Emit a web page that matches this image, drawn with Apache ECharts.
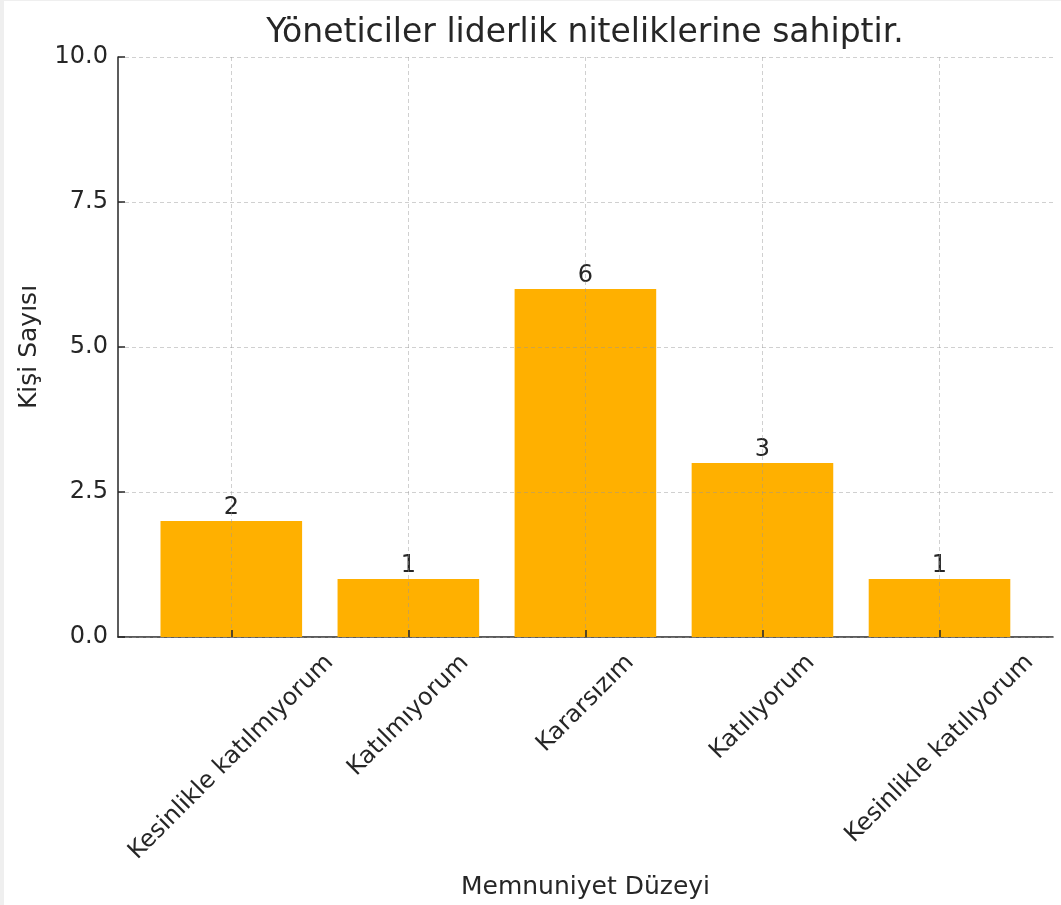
<!DOCTYPE html>
<html>
<head>
<meta charset="utf-8">
<script src="https://cdn.jsdelivr.net/npm/echarts@6/dist/echarts.min.js"></script>
<style>
  html, body { margin: 0; padding: 0; background: #efefef; }
  #chart { position: absolute; left: 4px; top: 1px; width: 1057px; height: 904px; background: #ffffff; }
</style>
</head>
<body>
<div id="chart"></div>
<script>
const titleText = 'Yöneticiler liderlik niteliklerine sahiptir.';
const categories = ['Kesinlikle katılmıyorum', 'Katılmıyorum', 'Kararsızım', 'Katılıyorum', 'Kesinlikle katılıyorum'];
const counts = [2, 1, 6, 3, 1];
const yMin = 0, yMax = 10, yStep = 2.5;
const xAxisName = 'Memnuniyet Düzeyi';
const yAxisName = 'Kişi Sayısı';

const FONT = '"DejaVu Sans", "Noto Sans", sans-serif';
const TXT = '#262626';
const LABEL_SIZE = 24;
const GRIDLINE = 'rgba(150,150,150,0.45)';

// measure label widths so rotated labels can be centred under ticks (matplotlib ha="center")
const ctx = document.createElement('canvas').getContext('2d');
ctx.font = LABEL_SIZE + 'px ' + FONT;
const catItems = categories.map(c => {
  const w = ctx.measureText(c).width;
  const p = Math.round(w / 2);
  return { value: c, textStyle: { padding: [0, p, 0, 0], lineHeight: p, align: 'center', verticalAlign: 'middle' } };
});

const chart = echarts.init(document.getElementById('chart'));
chart.setOption({
  animation: false,
  backgroundColor: '#ffffff',
  title: {
    text: titleText,
    left: 581,
    textAlign: 'center',
    top: 16,
    padding: 0,
    textStyle: { fontFamily: FONT, fontSize: 33, fontWeight: 'normal', color: TXT }
  },
  grid: [
    { left: 114, right: 8, top: 56, bottom: 268, containLabel: false, outerBoundsMode: 'none' },
    { left: 227.3, right: 121.5, top: 56, bottom: 268, containLabel: false, outerBoundsMode: 'none' }
  ],
  xAxis: [
    {
      type: 'value', gridIndex: 0, min: 0, max: 1,
      axisLine: { show: true, lineStyle: { color: TXT, width: 1.5 } },
      axisTick: { show: false }, axisLabel: { show: false }, splitLine: { show: false },
      name: xAxisName, nameLocation: 'middle', nameGap: 238,
      nameTextStyle: { fontFamily: FONT, fontSize: 25, color: TXT }
    },
    {
      type: 'category', gridIndex: 1, data: catItems, boundaryGap: false, z: 10,
      axisLine: { show: false },
      axisTick: { show: true, inside: true, length: 7, alignWithLabel: true, lineStyle: { color: TXT, width: 1.5 } },
      axisLabel: {
        interval: 0, rotate: 45, margin: 22, align: 'center', verticalAlign: 'middle',
        fontFamily: FONT, fontSize: LABEL_SIZE, color: TXT, hideOverlap: false,
        formatter: v => '\n' + v
      },
      splitLine: { show: true, lineStyle: { color: GRIDLINE, type: [4, 3], width: 1 } }
    }
  ],
  yAxis: [
    {
      type: 'value', gridIndex: 0, min: yMin, max: yMax, interval: yStep, z: 10,
      axisLine: { show: true, lineStyle: { color: TXT, width: 1.5 } },
      axisTick: { show: true, inside: true, length: 7, lineStyle: { color: TXT, width: 1.5 } },
      axisLabel: { margin: 10, fontFamily: FONT, fontSize: 24, color: TXT, formatter: v => v.toFixed(1) },
      splitLine: { show: true, lineStyle: { color: GRIDLINE, type: [4, 3], width: 1 } },
      name: yAxisName, nameLocation: 'middle', nameGap: 76, nameRotate: 90,
      nameTextStyle: { fontFamily: FONT, fontSize: 25, color: TXT }
    },
    { type: 'value', gridIndex: 1, min: yMin, max: yMax, show: false }
  ],
  series: [{
    type: 'bar', xAxisIndex: 1, yAxisIndex: 1, data: counts, barWidth: 141.6, clip: false,
    itemStyle: { color: '#FFB000' },
    label: { show: true, position: 'top', distance: 1, fontFamily: FONT, fontSize: 24, color: TXT }
  }]
});
</script>
</body>
</html>
